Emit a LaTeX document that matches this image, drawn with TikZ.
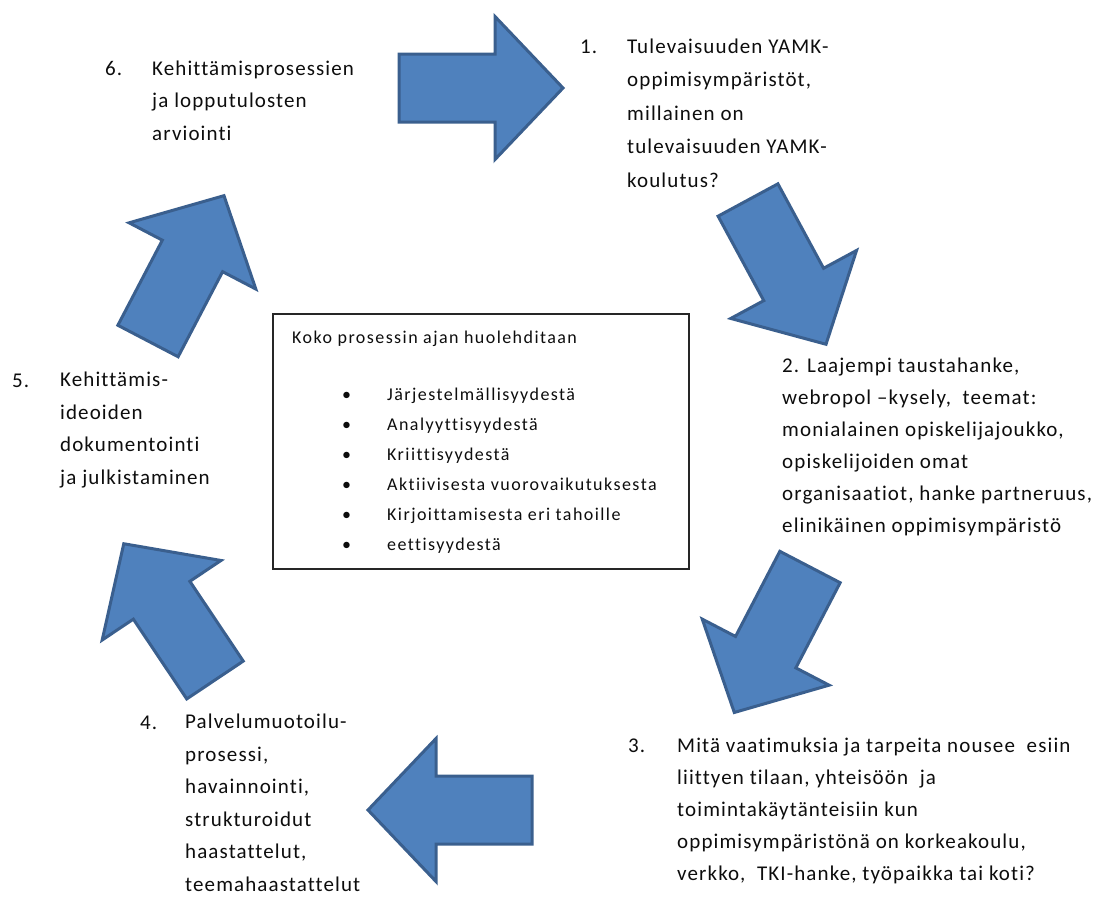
\documentclass[tikz,border=0pt]{standalone}
\usepackage{fontspec}
\setmainfont{Carlito}[LetterSpace=5.3, Ligatures=NoCommon]
\newfontfamily\boxfont{Carlito}[LetterSpace=8, Ligatures=NoCommon]
\usepackage{tikz}
\definecolor{arrowfill}{HTML}{4F81BD}
\definecolor{arrowline}{HTML}{3A5F8E}

\begin{document}
\begin{tikzpicture}[
  x=1pt, y=-1pt,
  every node/.style={inner sep=0pt, text=black!95},
  % base of a multi-line node is the last line
  steptext/.style={anchor=base west, align=left, font=\fontsize{21}{32.5}\selectfont},
  stepnum/.style={anchor=base west, font=\fontsize{21}{32.5}\selectfont},
  boxtext/.style={anchor=base west, font=\boxfont\fontsize{18}{30}\selectfont},
  block arrow/.style={fill=arrowfill, draw=arrowline, line width=3pt, line join=miter}
]
\useasboundingbox (0,0) rectangle (1094,898);

% block arrows round the cycle: back centre x/y and heading
\foreach \bx/\by/\ang in {399/88/0, 748/200/-61.6, 810/567/-117.5, 532/810/180, 215/680/123.8, 148/341/62.4}
{
\begin{scope}[shift={(\bx,\by)}, rotate=\ang]
  \draw[block arrow] (0,-34) -- (96,-34) -- (96,-71.5) -- (164,0) -- (96,71.5) -- (96,34) -- (0,34) -- cycle;
\end{scope}
}

% steps
\node[stepnum] (n1) at (580,53) {1.};
\node[steptext, font=\fontsize{21}{33.5}\selectfont] (s1) at (627,187) {Tulevaisuuden YAMK-\\oppimisympäristöt,\\millainen on\\tulevaisuuden YAMK-\\koulutus?};

\node[steptext, font=\fontsize{21}{32}\selectfont] (s2) at (782,532) {2. Laajempi taustahanke,\\webropol --kysely,~ teemat:\\monialainen opiskelijajoukko,\\opiskelijoiden omat\\organisaatiot, hanke partneruus,\\elinikäinen oppimisympäristö};

\node[stepnum] (n3) at (628,752) {3.};
\node[steptext, font=\fontsize{21}{32}\selectfont] (s3) at (677,880) {Mitä vaatimuksia ja tarpeita nousee~ esiin\\liittyen tilaan, yhteisöön~ ja\\toimintakäytänteisiin kun\\oppimisympäristönä on korkeakoulu,\\verkko,~ TKI-hanke, työpaikka tai koti?};

\node[stepnum] (n4) at (140,729) {4.};
\node[steptext] (s4) at (185,891) {Palvelumuotoilu-\\prosessi,\\havainnointi,\\strukturoidut\\haastattelut,\\teemahaastattelut};

\node[stepnum] (n5) at (12,387) {5.};
\node[steptext] (s5) at (60,484) {Kehittämis-\\ideoiden\\dokumentointi\\ja julkistaminen};

\node[stepnum] (n6) at (105,75) {6.};
\node[steptext] (s6) at (152,140) {Kehittämisprosessien\\ja lopputulosten\\arviointi};

% centre box
\node[draw=black!85, line width=1.5pt, anchor=north west, minimum width=416, minimum height=255] (care) at (272,313) {};
\node[boxtext] (head) at (292,343) {Koko prosessin ajan huolehditaan};
\foreach \txt [count=\i] in {Järjestelmällisyydestä, Analyyttisyydestä, Kriittisyydestä, Aktiivisesta vuorovaikutuksesta, Kirjoittamisesta eri tahoille, eettisyydestä}
{
  \node[boxtext] (b\i) at (342,370+30*\i) {\textbullet};
  \node[boxtext] (c\i) at (387,370+30*\i) {\txt};
}
\end{tikzpicture}
\end{document}
